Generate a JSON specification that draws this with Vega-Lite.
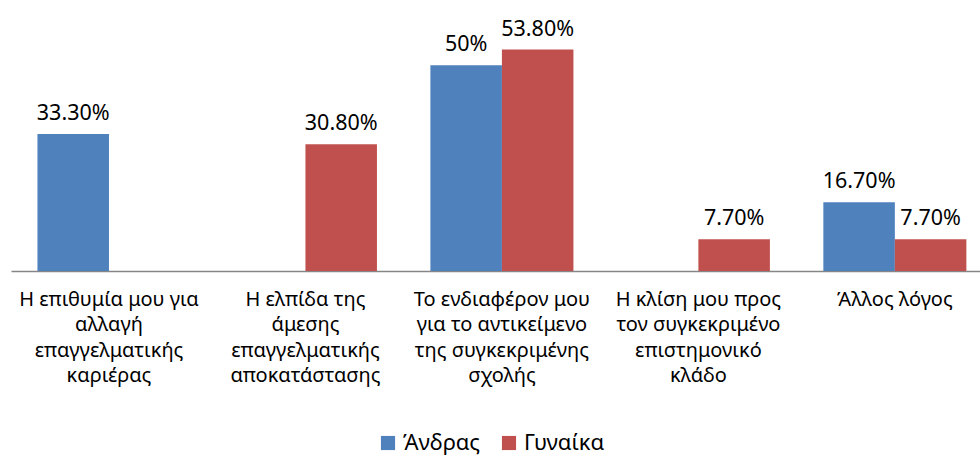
{
  "$schema": "https://vega.github.io/schema/vega-lite/v6.json",
  "width": 969,
  "height": 247,
  "autosize": {"type": "none"},
  "padding": {"left": 11, "top": 24, "right": 0, "bottom": 184},
  "background": "white",
  "config": {"view": {"stroke": null}, "font": "Noto Sans"},
  "data": {
    "values": [
      {"cat": "Η επιθυμία μου για|αλλαγή|επαγγελματικής|καριέρας", "sex": "Άνδρας", "v": 33.3, "label": "33.30%"},
      {"cat": "Η επιθυμία μου για|αλλαγή|επαγγελματικής|καριέρας", "sex": "Γυναίκα", "v": 0, "label": ""},
      {"cat": "Η ελπίδα της|άμεσης|επαγγελματικής|αποκατάστασης", "sex": "Άνδρας", "v": 0, "label": ""},
      {"cat": "Η ελπίδα της|άμεσης|επαγγελματικής|αποκατάστασης", "sex": "Γυναίκα", "v": 30.8, "label": "30.80%"},
      {"cat": "Το ενδιαφέρον μου|για το αντικείμενο|της συγκεκριμένης|σχολής", "sex": "Άνδρας", "v": 50, "label": "50%"},
      {"cat": "Το ενδιαφέρον μου|για το αντικείμενο|της συγκεκριμένης|σχολής", "sex": "Γυναίκα", "v": 53.8, "label": "53.80%"},
      {"cat": "Η κλίση μου προς|τον συγκεκριμένο|επιστημονικό|κλάδο", "sex": "Άνδρας", "v": 0, "label": ""},
      {"cat": "Η κλίση μου προς|τον συγκεκριμένο|επιστημονικό|κλάδο", "sex": "Γυναίκα", "v": 7.7, "label": "7.70%"},
      {"cat": "Άλλος λόγος", "sex": "Άνδρας", "v": 16.7, "label": "16.70%"},
      {"cat": "Άλλος λόγος", "sex": "Γυναίκα", "v": 7.7, "label": "7.70%"}
    ]
  },
  "encoding": {
    "x": {
      "field": "cat",
      "type": "nominal",
      "sort": [
        "Η επιθυμία μου για|αλλαγή|επαγγελματικής|καριέρας",
        "Η ελπίδα της|άμεσης|επαγγελματικής|αποκατάστασης",
        "Το ενδιαφέρον μου|για το αντικείμενο|της συγκεκριμένης|σχολής",
        "Η κλίση μου προς|τον συγκεκριμένο|επιστημονικό|κλάδο",
        "Άλλος λόγος"
      ],
      "scale": {"paddingInner": 0.272, "paddingOuter": 0.102, "align": 0.66},
      "axis": {
        "title": null,
        "labelAngle": 0,
        "ticks": false,
        "domainColor": "#868686",
        "domainWidth": 1.5,
        "labelExpr": "split(datum.label, '|')",
        "labelFontSize": 20,
        "labelColor": "#000000",
        "labelLineHeight": 25.5,
        "labelPadding": 18,
        "labelBaseline": "top",
        "labelLimit": 0
      }
    },
    "xOffset": {"field": "sex", "type": "nominal", "sort": ["Άνδρας", "Γυναίκα"]},
    "y": {"field": "v", "type": "quantitative", "scale": {"domain": [0, 60]}, "axis": null}
  },
  "layer": [
    {
      "mark": {"type": "bar"},
      "encoding": {
        "color": {
          "field": "sex",
          "type": "nominal",
          "sort": ["Άνδρας", "Γυναίκα"],
          "scale": {"domain": ["Άνδρας", "Γυναίκα"], "range": ["#4F81BD", "#C0504D"]},
          "legend": {
            "title": null,
            "orient": "none",
            "direction": "horizontal",
            "legendX": 366,
            "legendY": 408,
            "symbolType": "square",
            "symbolSize": 200,
            "symbolStrokeWidth": 0,
            "labelFontSize": 22,
            "labelColor": "#000000",
            "columnPadding": 17,
            "labelOffset": 4
          }
        }
      }
    },
    {
      "mark": {"type": "text", "baseline": "bottom", "dy": -9, "fontSize": 21.5, "color": "#000000"},
      "encoding": {"text": {"field": "label"}}
    }
  ]
}
